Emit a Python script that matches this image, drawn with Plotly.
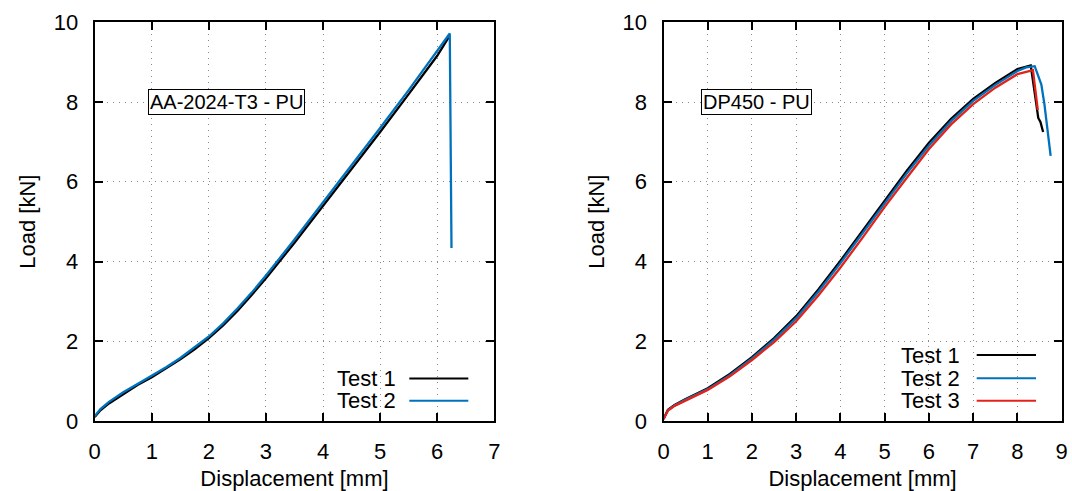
import plotly.graph_objects as go

# ---- Left panel: AA-2024-T3 - PU ----
aa_t1_disp = [0, 0.1, 0.25, 0.5, 0.75, 1.0, 1.25, 1.5, 1.75, 2.0, 2.25, 2.5, 2.75, 3.0, 3.5, 4.0, 4.5, 5.0, 5.5, 6.0, 6.2]
aa_t1_load = [0.1, 0.27, 0.44, 0.68, 0.9, 1.1, 1.32, 1.55, 1.8, 2.08, 2.4, 2.76, 3.16, 3.58, 4.47, 5.39, 6.31, 7.25, 8.2, 9.16, 9.62]
aa_t2_disp = [0, 0.1, 0.25, 0.5, 0.75, 1.0, 1.25, 1.5, 1.75, 2.0, 2.25, 2.5, 2.75, 3.0, 3.5, 4.0, 4.5, 5.0, 5.5, 6.0, 6.22, 6.25]
aa_t2_load = [0.12, 0.3, 0.48, 0.72, 0.93, 1.13, 1.35, 1.58, 1.84, 2.12, 2.45, 2.82, 3.22, 3.65, 4.55, 5.48, 6.4, 7.35, 8.3, 9.28, 9.72, 4.34]

# ---- Right panel: DP450 - PU ----
dp_t1_disp = [0, 0.1, 0.25, 0.5, 1.0, 1.5, 2.0, 2.5, 3.0, 3.5, 4.0, 4.5, 5.0, 5.5, 6.0, 6.5, 7.0, 7.5, 8.0, 8.3, 8.42, 8.47, 8.52, 8.58]
dp_t1_load = [0.05, 0.28, 0.4, 0.55, 0.82, 1.18, 1.6, 2.08, 2.63, 3.3, 4.02, 4.78, 5.55, 6.28, 6.98, 7.58, 8.08, 8.48, 8.83, 8.92, 8.0, 7.6, 7.5, 7.25]
dp_t2_disp = [0, 0.1, 0.25, 0.5, 1.0, 1.5, 2.0, 2.5, 3.0, 3.5, 4.0, 4.5, 5.0, 5.5, 6.0, 6.5, 7.0, 7.5, 8.0, 8.2, 8.39, 8.46, 8.54, 8.61, 8.69, 8.75]
dp_t2_load = [0.05, 0.27, 0.39, 0.54, 0.8, 1.15, 1.57, 2.04, 2.58, 3.24, 3.96, 4.72, 5.48, 6.21, 6.91, 7.52, 8.03, 8.43, 8.78, 8.87, 8.9, 8.69, 8.44, 7.94, 7.19, 6.65]
dp_t3_disp = [0, 0.1, 0.25, 0.5, 1.0, 1.5, 2.0, 2.5, 3.0, 3.5, 4.0, 4.5, 5.0, 5.5, 6.0, 6.5, 7.0, 7.5, 8.0, 8.35, 8.39, 8.46]
dp_t3_load = [0.05, 0.26, 0.38, 0.52, 0.78, 1.12, 1.53, 1.98, 2.5, 3.15, 3.85, 4.6, 5.37, 6.1, 6.82, 7.44, 7.95, 8.36, 8.7, 8.8, 8.44, 7.8]

left_labels = ["Test 1", "Test 2"]
right_labels = ["Test 1", "Test 2", "Test 3"]
x_ticks_left = list(range(0, 8))
x_ticks_right = list(range(0, 10))
y_ticks = [0, 2, 4, 6, 8, 10]

BLACK = "#000000"
BLUE = "#0072BD"
RED = "#E2231A"
FONT = "Liberation Sans, Arial, Helvetica, sans-serif"

W, H = 1072, 491
def px(x):
    return x / W
def py(y):
    return 1 - y / H

# plot area pixel boxes (in reference-image pixels)
L_X = (94.7, 494.3)
R_X = (663.5, 1061.7)
Y_PX = (22.3, 421.0)

fig = go.Figure()
line_w = 2.3
fig.add_trace(go.Scatter(x=aa_t1_disp, y=aa_t1_load, mode="lines", line=dict(color=BLACK, width=line_w), xaxis="x", yaxis="y", showlegend=False))
fig.add_trace(go.Scatter(x=aa_t2_disp, y=aa_t2_load, mode="lines", line=dict(color=BLUE, width=line_w), xaxis="x", yaxis="y", showlegend=False))
fig.add_trace(go.Scatter(x=dp_t1_disp, y=dp_t1_load, mode="lines", line=dict(color=BLACK, width=line_w), xaxis="x2", yaxis="y2", showlegend=False))
fig.add_trace(go.Scatter(x=dp_t2_disp, y=dp_t2_load, mode="lines", line=dict(color=BLUE, width=line_w), xaxis="x2", yaxis="y2", showlegend=False))
fig.add_trace(go.Scatter(x=dp_t3_disp, y=dp_t3_load, mode="lines", line=dict(color=RED, width=line_w), xaxis="x2", yaxis="y2", showlegend=False))

FS = 22
axis_common = dict(
    showline=True, linecolor="black", linewidth=2, mirror="ticks",
    ticks="inside", ticklen=8, tickwidth=1.5, tickcolor="black",
    showgrid=True, gridcolor="#8a8a8a", gridwidth=1, griddash="1px,5px",
    zeroline=False, tickfont=dict(family=FONT, size=FS, color="black"),
    automargin=False, ticklabeloverflow="allow",
)

fig.update_layout(
    width=W, height=H, margin=dict(l=0, r=0, t=0, b=0),
    paper_bgcolor="white", plot_bgcolor="white",
    font=dict(family=FONT, size=FS, color="black"),
    xaxis=dict(domain=[px(L_X[0]), px(L_X[1])], range=[0, 7], tickvals=x_ticks_left, anchor="y",
               title=dict(text="Displacement [mm]", font=dict(size=FS), standoff=10), ticklabelstandoff=10, **axis_common),
    yaxis=dict(domain=[py(Y_PX[1]), py(Y_PX[0])], range=[0, 10], tickvals=y_ticks, anchor="x",
               title=dict(text="Load [kN]", font=dict(size=FS), standoff=12), ticklabelstandoff=10, **axis_common),
    xaxis2=dict(domain=[px(R_X[0]), px(R_X[1])], range=[0, 9], tickvals=x_ticks_right, anchor="y2",
                title=dict(text="Displacement [mm]", font=dict(size=FS), standoff=10), ticklabelstandoff=10, **axis_common),
    yaxis2=dict(domain=[py(Y_PX[1]), py(Y_PX[0])], range=[0, 10], tickvals=y_ticks, anchor="x2",
                title=dict(text="Load [kN]", font=dict(size=FS), standoff=12), ticklabelstandoff=10, **axis_common),
    showlegend=False,
)

# Panel labels (boxed)
fig.add_annotation(x=px(148), y=py(102), xref="paper", yref="paper", xanchor="left", yanchor="middle",
                   text="AA-2024-T3 - PU", showarrow=False, font=dict(size=20, family=FONT, color="black"),
                   bordercolor="black", borderwidth=1, borderpad=1, bgcolor="white")
fig.add_annotation(x=px(701), y=py(102), xref="paper", yref="paper", xanchor="left", yanchor="middle",
                   text="DP450 - PU", showarrow=False, font=dict(size=20, family=FONT, color="black"),
                   bordercolor="black", borderwidth=1, borderpad=1, bgcolor="white")

# Gnuplot-style key: text then line sample
def key(labels, colors, text_right, line_x0, line_x1, ys):
    for lab, col, y in zip(labels, colors, ys):
        fig.add_annotation(x=px(text_right), y=py(y), xref="paper", yref="paper", xanchor="right", yanchor="middle",
                           text=lab, showarrow=False, height=21, valign="middle",
                           font=dict(size=FS, family=FONT, color="black"))
        fig.add_shape(type="line", xref="paper", yref="paper", x0=px(line_x0), x1=px(line_x1), y0=py(y), y1=py(y),
                      line=dict(color=col, width=2))

key(left_labels, [BLACK, BLUE], 398, 409.3, 468.3, [378.5, 400.7])
key(right_labels, [BLACK, BLUE, RED], 962, 976.7, 1036, [355, 378.3, 400.7])

# remove the default page margin so the figure fills the window exactly
fig.write_html("out.html", config={"displayModeBar": False},
               post_script="document.body.style.margin='0';document.body.style.overflow='hidden';")
